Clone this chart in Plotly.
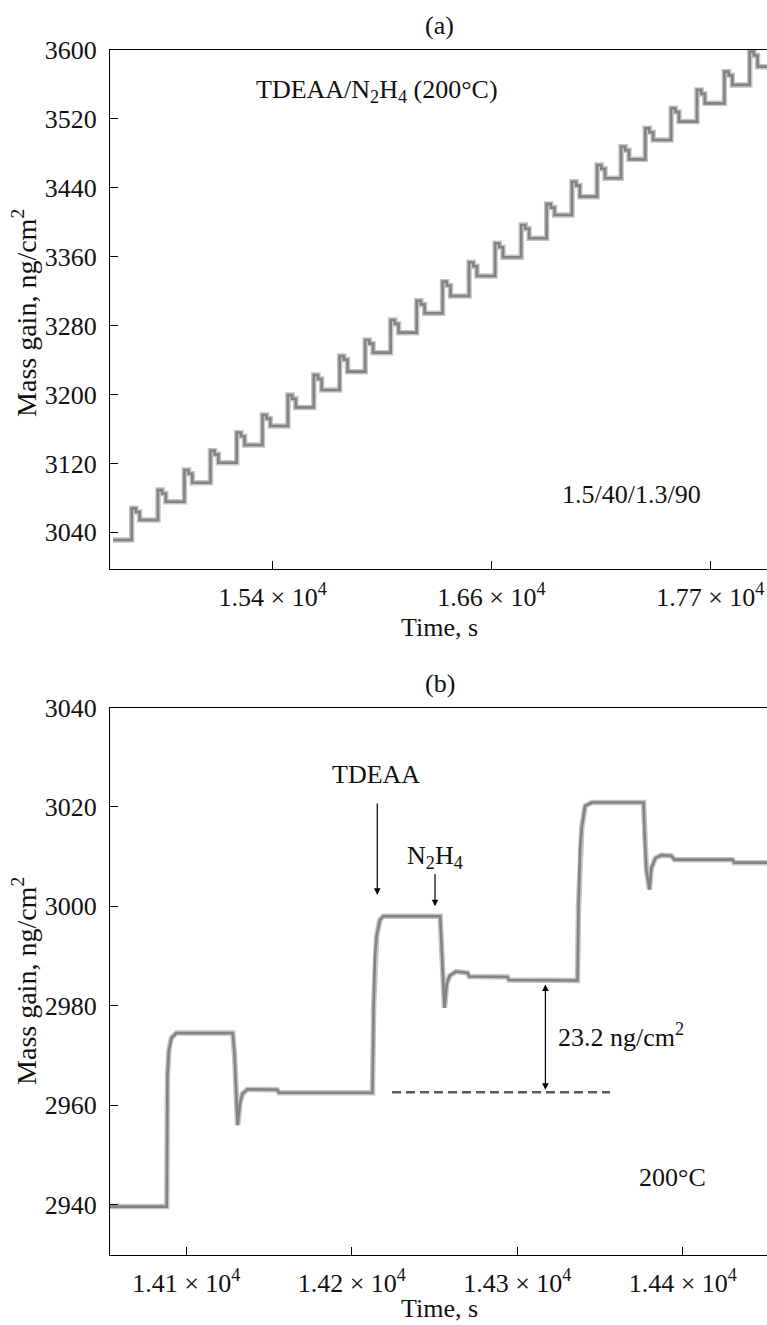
import plotly.graph_objects as go

# ---------------- data: panel (a) ----------------
a_start_t = 14561
a_start_v = 3031
# time of each TDEAA pulse (s)
a_rise_t = [14659, 14797, 14936, 15073, 15211, 15346, 15480, 15616, 15752, 15886,
            16020, 16157, 16293, 16432, 16569, 16706, 16840, 16973, 17105, 17231,
            17358, 17494, 17630, 17774, 17907]
# mass right after TDEAA pulse
a_peak_v = [3067.8, 3089.0, 3112.3, 3134.8, 3155.7, 3176.2, 3199.4, 3222.6, 3244.7, 3263.3,
            3286.5, 3308.9, 3331.0, 3353.5, 3375.5, 3396.8, 3421.2, 3447.0, 3466.5, 3487.7,
            3509.0, 3532.3, 3553.6, 3574.8, 3598.0]
# mass at end of TDEAA purge
a_shoulder_v = [3063.5, 3085.0, 3108.0, 3130.5, 3151.5, 3172.0, 3195.0, 3218.0, 3240.5, 3259.0,
                3282.0, 3304.5, 3326.5, 3349.0, 3371.0, 3392.5, 3417.0, 3442.5, 3462.0, 3483.5,
                3504.5, 3528.0, 3549.0, 3570.5, 3593.5]
# mass after N2H4 pulse + purge
a_plateau_v = [3054.3, 3075.5, 3097.6, 3120.8, 3141.4, 3163.4, 3185.0, 3205.2, 3226.5, 3248.6,
               3271.8, 3294.3, 3314.4, 3337.6, 3359.3, 3381.4, 3408.4, 3429.7, 3451.0, 3473.0,
               3495.5, 3516.8, 3538.0, 3559.4, 3580.6]
a_end_t = 18000
SHOULDER_S = 22     # s after TDEAA pulse
N2H4_S = 41.5       # s after TDEAA pulse (1.5 + 40)

a_yticks = [3040, 3120, 3200, 3280, 3360, 3440, 3520, 3600]
a_xticks = [15400, 16550, 17700]
a_xticktext = ["1.54 × 10<sup>4</sup>", "1.66 × 10<sup>4</sup>", "1.77 × 10<sup>4</sup>"]

# ---------------- data: panel (b) ----------------
b_t = [14040, 14088.2, 14088.6, 14089.5, 14091, 14094, 14128.1,
       14129.2, 14130.2, 14131, 14132.5, 14134, 14137, 14155, 14156, 14212.5,
       14213.2, 14214, 14215, 14217, 14219, 14253.4,
       14254, 14255, 14256, 14257.5, 14259.3, 14263, 14270, 14271, 14294, 14295, 14336.4,
       14337, 14338, 14339, 14341, 14345, 14376.3,
       14377, 14378, 14379.9, 14381, 14383.5, 14387, 14393, 14395, 14430, 14431, 14460]
b_v = [2939.6, 2939.6, 2966, 2971, 2973.5, 2974.5, 2974.5,
       2970, 2962, 2956, 2960.5, 2962.3, 2963.2, 2963.1, 2962.5, 2962.5,
       2980, 2990, 2994, 2997.3, 2998, 2998,
       2994, 2986, 2979.6, 2984.6, 2986.1, 2986.9, 2986.6, 2985.9, 2985.8, 2985.2, 2985.1,
       3000, 3012, 3016, 3020.2, 3020.9, 3020.9,
       3014, 3007.4, 3003.4, 3007.7, 3009.7, 3010.3, 3010.2, 3009.4, 3009.4, 3008.8, 3008.8]
b_dash_t = [14224.3, 14356]
b_dash_v = [2962.6, 2962.6]
b_tdeaa_arrow_t = 14215.4
b_tdeaa_arrow_v = [3021.0, 3002.3]
b_n2h4_arrow_t = 14250.3
b_n2h4_arrow_v = [3006.8, 3000.0]
b_gain_arrow_t = 14317
b_gain_arrow_v = [2984.6, 2963.1]

b_yticks = [2940, 2960, 2980, 3000, 3020, 3040]
b_xticks = [14100, 14200, 14300, 14400]
b_xticktext = ["1.41 × 10<sup>4</sup>", "1.42 × 10<sup>4</sup>",
               "1.43 × 10<sup>4</sup>", "1.44 × 10<sup>4</sup>"]

# ---------------- build (a) step path from the read values ----------------
a_t = [a_start_t]
a_v = [a_start_v]
prev = a_start_v
for tr, pk, sh, pl in zip(a_rise_t, a_peak_v, a_shoulder_v, a_plateau_v):
    a_t += [tr, tr, tr + SHOULDER_S, tr + SHOULDER_S, tr + N2H4_S, tr + N2H4_S]
    a_v += [prev, pk, pk, sh, sh, pl]
    prev = pl
a_t.append(a_end_t)
a_v.append(prev)

FONT = "Liberation Serif"
FS = 26
HALO = "#c4c4c4"
CORE = "#838383"

fig = go.Figure()
for xs, ys, xa, ya in [(a_t, a_v, "x", "y"), (b_t, b_v, "x2", "y2")]:
    fig.add_trace(go.Scatter(x=xs, y=ys, mode="lines", xaxis=xa, yaxis=ya,
                             line=dict(color=HALO, width=5.5), hoverinfo="skip"))
    fig.add_trace(go.Scatter(x=xs, y=ys, mode="lines", xaxis=xa, yaxis=ya,
                             line=dict(color=CORE, width=2.6), hoverinfo="skip"))
fig.add_trace(go.Scatter(x=b_dash_t, y=b_dash_v, mode="lines", xaxis="x2", yaxis="y2",
                         line=dict(color="#5a5a5a", width=2.6, dash="9px,5px"),
                         hoverinfo="skip"))

axis_common = dict(showgrid=False, zeroline=False, showline=True, linecolor="black",
                   linewidth=1.3, ticks="inside", ticklen=8, tickwidth=1.2,
                   tickcolor="black", automargin=False,
                   tickfont=dict(family=FONT, size=FS, color="#111"))

fig.update_layout(
    width=767, height=1325,
    margin=dict(l=110, r=0, t=0, b=0, autoexpand=False),
    paper_bgcolor="white", plot_bgcolor="white",
    showlegend=False, hovermode=False,
    font=dict(family=FONT, size=FS, color="#111"),
    xaxis=dict(axis_common, domain=[0, 1], anchor="y", range=[14545, 17998],
               tickvals=a_xticks, ticktext=a_xticktext, mirror=True,
               ticklabelstandoff=4),
    yaxis=dict(axis_common, domain=[0.5703, 0.9623], anchor="x", range=[2997, 3600],
               tickvals=a_yticks, ticklabelstandoff=7),
    xaxis2=dict(axis_common, domain=[0, 1], anchor="y2", range=[14053.9, 14450.9],
                tickvals=b_xticks, ticktext=b_xticktext, mirror=True,
                ticklabelstandoff=4),
    yaxis2=dict(axis_common, domain=[0.0526, 0.4660], anchor="x2", range=[2929.8, 3040],
                tickvals=b_yticks, ticklabelstandoff=7),
)

def txt(text, x, y, xref, yref, size=FS, **kw):
    fig.add_annotation(text=text, x=x, y=y, xref=xref, yref=yref, showarrow=False,
                       font=dict(family=FONT, size=size, color="#111"), **kw)

# panel labels and axis titles
txt("(a)", 0.502, 0.9811, "paper", "paper", yanchor="middle")
txt("(b)", 0.502, 0.4845, "paper", "paper", yanchor="middle")
txt("Time, s", 0.502, 1 - 628 / 1325, "paper", "paper", yanchor="middle")
txt("Time, s", 0.502, 0.0, "paper", "paper", yanchor="bottom")
for yc in [1 - 313 / 1325, 1 - 981 / 1325]:
    txt("Mass gain, ng/cm<sup>2</sup>", -0.131, yc, "paper", "paper", size=28,
        textangle=-90, xanchor="center", yanchor="middle")

# in-plot labels
txt("TDEAA/N<sub>2</sub>H<sub>4</sub> (200°C)", 15948, 3552, "x", "y")
txt("1.5/40/1.3/90", 17288, 3084, "x", "y")
txt("TDEAA", 14214.9, 3026.6, "x2", "y2")
txt("N<sub>2</sub>H<sub>4</sub>", 14250.3, 3010.0, "x2", "y2")
txt("23.2 ng/cm<sup>2</sup>", 14362.7, 2974.1, "x2", "y2")
txt("200°C", 14394, 2945.5, "x2", "y2")

# arrows
for t, vv, side in [(b_tdeaa_arrow_t, b_tdeaa_arrow_v, "end"),
                    (b_n2h4_arrow_t, b_n2h4_arrow_v, "end"),
                    (b_gain_arrow_t, b_gain_arrow_v, "end+start")]:
    fig.add_annotation(x=t, y=vv[1], ax=t, ay=vv[0], xref="x2", yref="y2",
                       axref="x2", ayref="y2", text="", showarrow=True,
                       arrowhead=2, arrowsize=1.1, arrowwidth=1.2, arrowcolor="black",
                       arrowside=side)

fig.write_html("out.html")
